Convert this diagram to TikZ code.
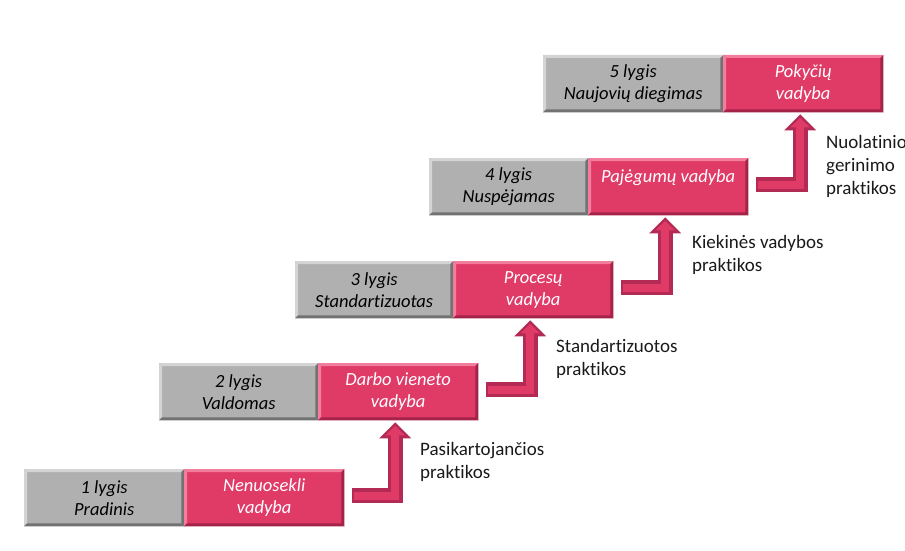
\documentclass[tikz,border=0pt]{standalone}
\usepackage{fontspec}
\setmainfont[RawFeature={-liga;-clig;-calt;-dlig}]{Carlito}
\usetikzlibrary{arrows.meta,calc}
\definecolor{gfill}{HTML}{B0B0B0}
\definecolor{glight}{HTML}{D4D4D4}
\definecolor{gdark}{HTML}{727272}
\definecolor{pfill}{HTML}{E03B67}
\definecolor{plight}{HTML}{F27D9D}
\definecolor{pdark}{HTML}{A52249}
\definecolor{adark}{HTML}{B32A54}
\definecolor{lbltext}{HTML}{1A1A1A}
\newcommand\bev[3]{%
 \fill[#2] (#1.north west) -- (#1.north east) -- ($(#1.north east)+(-3,3)$) -- ($(#1.north west)+(3,3)$) -- cycle;
 \fill[#2] (#1.north west) -- (#1.south west) -- ($(#1.south west)+(3,-3)$) -- ($(#1.north west)+(3,3)$) -- cycle;
 \fill[#3] (#1.south west) -- (#1.south east) -- ($(#1.south east)+(-3,-3)$) -- ($(#1.south west)+(3,-3)$) -- cycle;
 \fill[#3] (#1.north east) -- (#1.south east) -- ($(#1.south east)+(-3,-3)$) -- ($(#1.north east)+(-3,3)$) -- cycle;
}
\tikzset{
 box/.style={minimum height=57pt, inner sep=0pt, anchor=north west, align=center,
   font=\itshape\fontsize{18.5}{22}\selectfont},
 greybox/.style={box, fill=gfill, text=black},
 pinkbox/.style={box, fill=pfill, text=white},
 lbl/.style={anchor=west, align=left, inner sep=0pt, font=\fontsize{19}{23}\selectfont, text=lbltext},
 stair/.style={line width=15pt, draw=adark, -{Triangle[width=31pt,length=16pt,color=adark]}},
 stairin/.style={line width=8pt, draw=pfill, shorten <=2pt, shorten >=3.5pt,
   -{Triangle[width=19pt,length=9.5pt,color=pfill]}},
}
\begin{document}
\begin{tikzpicture}[x=1pt,y=-1pt]
\useasboundingbox (0,0) rectangle (905,551);
% level boxes
\node[greybox, minimum width=160pt] (g1) at (24,469) {1 lygis\\Pradinis};
\node[pinkbox, minimum width=160pt] (p1) at (184,469) {Nenuosekli\\vadyba};
\node[greybox, minimum width=159pt] (g2) at (159,363) {2 lygis\\Valdomas};
\node[pinkbox, minimum width=160pt] (p2) at (318,363) {Darbo vieneto\\vadyba};
\node[greybox, minimum width=158pt] (g3) at (295,261) {3 lygis\\Standartizuotas};
\node[pinkbox, minimum width=160pt] (p3) at (453,261) {Procesų\\vadyba};
\node[greybox, minimum width=159pt] (g4) at (429,158) {4 lygis\\Nuspėjamas};
\node[pinkbox, minimum width=160pt] (p4) at (588,158) {Pajėgumų vadyba\\\mbox{}};
\node[greybox, minimum width=180pt] (g5) at (543,55) {5 lygis\\Naujovių diegimas};
\node[pinkbox, minimum width=160pt] (p5) at (723,55) {Pokyčių\\vadyba};
\foreach \n in {1,...,5}{
  \bev{g\n}{glight}{gdark}
  \bev{p\n}{plight}{pdark}
}
% stair arrows
\foreach \a/\b in {1/2,2/3,3/4,4/5}{
  \draw[stair] ($(p\a.east)+(8,-2)$) -| ($(p\b.south)+(-3,2)$);
  \draw[stairin] ($(p\a.east)+(8,-2)$) -| ($(p\b.south)+(-3,2)$);
}
% labels
\node[lbl] (l1) at (420,462) {Pasikartojančios\\praktikos};
\node[lbl] (l2) at (556,359) {Standartizuotos\\praktikos};
\node[lbl] (l3) at (692,255) {Kiekinės vadybos\\praktikos};
\node[lbl] (l4) at (826,166) {Nuolatinio\\gerinimo\\praktikos};
\end{tikzpicture}
\end{document}
